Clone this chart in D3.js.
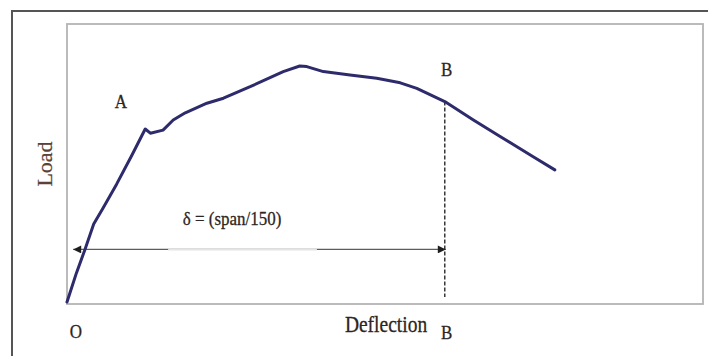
<!DOCTYPE html>
<html>
<head>
<meta charset="utf-8">
<script src="https://cdn.jsdelivr.net/npm/d3@7"></script>
<style>
  html, body { margin: 0; padding: 0; background: #fff; }
  svg { display: block; }
  text { font-family: "Liberation Serif", "DejaVu Serif", serif; fill: #2e2522; stroke: #2e2522; stroke-width: 0.25; }
</style>
</head>
<body>
<svg id="chart" width="708" height="356"></svg>
<script>
// Load–deflection curve, both axes in percent of the plotted range
const deflection = [0, 1.5, 2.8, 4.2, 5.7, 7.8, 10.2, 12.3, 13.1, 15.1, 16.7, 18.6, 22.0, 24.6,
  28.8, 34.0, 36.6, 37.7, 40.3, 44.5, 48.7, 52.4, 55.0, 59.4, 63.9, 68.1, 73.3, 76.7];
const load = [0.7, 11.2, 19.3, 28.6, 34.4, 42.8, 53.1, 62.5, 61.0, 62.1, 65.7, 68.3, 71.7, 73.5,
  77.6, 83.0, 85.0, 84.8, 83.0, 81.8, 80.6, 79.0, 77.0, 72.3, 65.7, 59.8, 52.6, 47.9];

// Serviceability limit: deflection span/150 at point B
const limitDeflection = [59.4];
const limitLoad = [72.3];
const arrowLevel = [19.5];
const arrowStart = [0.5];
const gapRange = [15.9, 39.3];

const pointLabels = ["O", "A", "B", "B"];
const xTitle = ["Deflection"];
const yTitle = ["Load"];
const deltaLabel = ["δ = (span/150)"];

const svg = d3.select("#chart");

const plot = { left: 67, top: 24, right: 703, bottom: 304 };
const x = d3.scaleLinear().domain([0, 100]).range([plot.left, plot.right]);
const y = d3.scaleLinear().domain([0, 100]).range([plot.bottom, plot.top]);

// outer frame
svg.append("path")
  .attr("d", `M12,356 L12,11 L708,11`)
  .attr("fill", "none")
  .attr("stroke", "#555")
  .attr("stroke-width", 2);

// plot frame
svg.append("rect")
  .attr("x", x(0)).attr("y", y(100))
  .attr("width", x(100) - x(0)).attr("height", y(0) - y(100))
  .attr("fill", "none")
  .attr("stroke", "#b4b4b4")
  .attr("stroke-width", 1.8);

// arrowhead
const defs = svg.append("defs");
defs.append("marker")
  .attr("id", "arrow")
  .attr("viewBox", "0 0 10 10")
  .attr("refX", 10).attr("refY", 5)
  .attr("markerWidth", 10).attr("markerHeight", 8)
  .attr("markerUnits", "userSpaceOnUse")
  .attr("orient", "auto-start-reverse")
  .append("path").attr("d", "M0,0 L10,5 L0,10 Z").attr("fill", "#1e1e1e");

// span/150 dimension arrow
const ay = y(arrowLevel[0]);
svg.append("line")
  .attr("x1", x(arrowStart[0]) + 3).attr("x2", x(limitDeflection[0]) + 1)
  .attr("y1", ay).attr("y2", ay)
  .attr("stroke", "#5c5c5c").attr("stroke-width", 1.3)
  .attr("marker-start", "url(#arrow)")
  .attr("marker-end", "url(#arrow)");
svg.append("line")
  .attr("x1", x(gapRange[0])).attr("x2", x(gapRange[1]))
  .attr("y1", ay).attr("y2", ay)
  .attr("stroke", "#e4e4e4").attr("stroke-width", 2);

// dashed limit line at B
svg.append("line")
  .attr("x1", x(limitDeflection[0])).attr("x2", x(limitDeflection[0]))
  .attr("y1", y(limitLoad[0])).attr("y2", y(2.5))
  .attr("stroke", "#2a2a2a").attr("stroke-width", 1.4)
  .attr("stroke-dasharray", "4,2");

// load-deflection curve
const pts = deflection.map((d, i) => [d, load[i]]);
svg.append("path")
  .datum(pts)
  .attr("d", d3.line().x(d => x(d[0])).y(d => y(d[1])))
  .attr("fill", "none")
  .attr("stroke", "#2d2b6b")
  .attr("stroke-width", 3)
  .attr("stroke-linejoin", "round")
  .attr("stroke-linecap", "round");

// labels (serif, slightly tall)
function label(txt, px, py, size, anchor) {
  return svg.append("text")
    .attr("transform", `translate(${px},${py}) scale(1,1.15)`)
    .attr("text-anchor", anchor || "middle")
    .attr("font-size", size)
    .text(txt);
}
label(pointLabels[0], 76, 338, 17);
label(pointLabels[1], 121, 108, 17);
label(pointLabels[2], x(limitDeflection[0]) + 2, 76, 17);
label(pointLabels[3], x(limitDeflection[0]) + 2, 339, 17);
label(xTitle[0], 386, 332, 19.5);
label(deltaLabel[0], 232, 225, 17);

svg.append("text")
  .attr("transform", `translate(52,164) rotate(-90) scale(1.1,1)`)
  .attr("text-anchor", "middle")
  .attr("font-size", 20)
  .style("fill", "#5a4238")
  .style("stroke", "#5a4238")
  .text(yTitle[0]);
</script>
</body>
</html>
